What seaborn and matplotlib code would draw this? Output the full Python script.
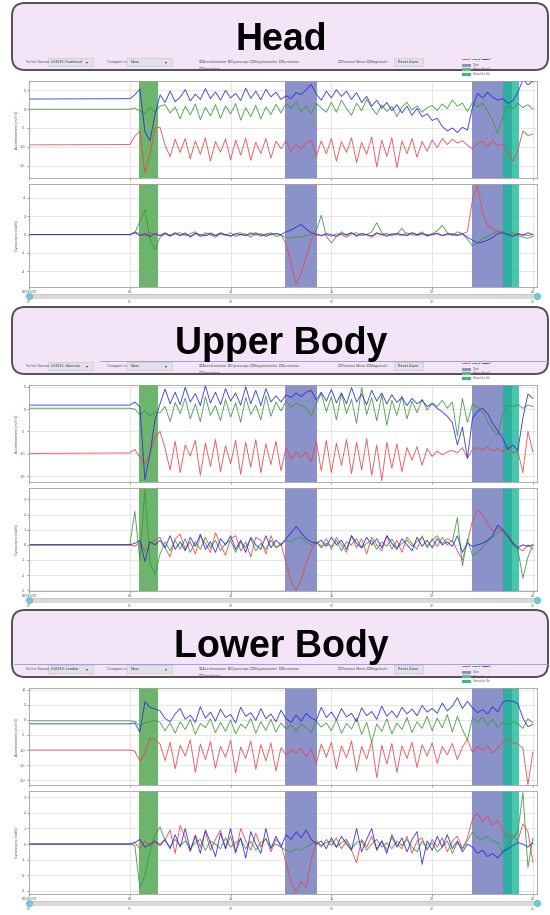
import numpy as np
import pandas as pd
import matplotlib
matplotlib.use("Agg")
import matplotlib.pyplot as plt
from matplotlib.patches import FancyBboxPatch, Rectangle
from matplotlib.lines import Line2D
import seaborn as sns

W, H = 550, 915

# Sample times: resting baseline at 0 s, then 4 Hz samples from 5 s to 25 s
TIME = np.r_[0.0, 5.0 + 0.25 * np.arange(81)]

# ---------------- Head (#11535: Forehead) ----------------
HEAD_ACC_X = [-9.5,
    -9.4, -7.2, -5.8, -17.0, -12.0, -5.0, -4.8, -9.6, -12.6, -8.0,
    -11.5, -7.8, -13.2, -8.4, -12.0, -7.6, -13.8, -8.6, -11.4, -7.9,
    -13.5, -8.2, -12.2, -7.7, -13.6, -8.8, -11.8, -7.8, -13.0, -8.5,
    -10.5, -8.4, -11.2, -9.2, -10.6, -9.0, -8.2, -12.6, -8.4, -11.8,
    -7.8, -13.8, -8.6, -11.5, -7.6, -14.2, -8.8, -12.0, -7.4, -15.4,
    -8.2, -12.6, -7.6, -15.6, -8.4, -11.8, -7.8, -12.8, -8.6, -11.2,
    -8.2, -10.2, -7.8, -9.4, -8.0, -9.0, -8.4, -9.6, -10.6, -9.0,
    -8.6, -10.0, -8.4, -9.8, -9.2, -11.8, -13.8, -11.0, -5.8, -7.0,
    -6.6]
HEAD_ACC_Y = [0.0,
    0.0, 0.3, -0.5, -1.2, 0.4, -0.6, 0.8, 1.2, -1.0, 0.6,
    -2.6, 0.8, -1.5, 1.4, -2.8, 0.5, -1.8, 1.2, -2.4, 0.9,
    -1.2, 1.5, -2.9, 0.4, -2.0, 1.0, -2.6, 0.6, -1.4, 1.3,
    -1.0, 1.5, 0.2, 2.0, -0.6, 0.8, -1.2, 1.6, 0.3, -0.8,
    1.8, -0.8, 2.4, 0.2, -1.6, 1.6, -0.4, 2.6, 0.4, -1.4,
    1.2, -0.6, 0.8, -2.0, 0.6, 1.8, -0.2, 0.9, -0.8, 0.4,
    1.0, -0.3, 1.4, 0.2, 2.4, 0.8, 1.6, -0.6, 1.8, 0.6,
    1.6, -0.5, -3.0, -6.5, -2.0, 1.0, 0.2, 1.6, 0.4, 1.2,
    0.0]
HEAD_ACC_Z = [2.7,
    2.8, 3.8, 5.4, -6.0, -8.4, -1.5, 3.8, 1.8, 4.8, 2.0,
    3.2, 5.2, 2.2, 4.0, 2.6, 5.5, 2.8, 4.6, 2.4, 5.0,
    3.0, 4.2, 2.3, 5.6, 2.9, 4.8, 2.5, 5.3, 3.3, 4.5,
    2.6, 3.6, 2.8, 4.4, 3.9, 5.2, 6.6, 4.0, 2.4, 4.8,
    3.0, 5.2, 3.4, 4.8, 2.6, 4.4, 1.8, 3.4, 0.8, 2.4,
    0.2, 1.8, -0.4, 1.2, -1.0, 0.8, -1.6, 0.2, -2.0, -1.2,
    -3.0, -2.4, -4.6, -5.8, -5.0, -6.2, -4.8, -5.6, 0.5, 4.2,
    3.0, 4.5, 3.2, 2.4, 2.8, 1.6, 2.2, 4.5, 7.8, 6.5,
    7.4]
HEAD_GYR_X = [0.0,
    0.0, 0.3, 0.1, -0.2, 0.2, 0.0, -0.1, 0.2, -0.1, 0.1,
    0.2, -0.1, 0.1, 0.3, -0.2, 0.0, 0.2, -0.1, 0.1, 0.0,
    -0.2, 0.1, 0.2, -0.1, 0.0, 0.2, -0.2, 0.1, 0.0, 0.1,
    0.0, -1.0, -3.0, -5.4, -4.2, -2.4, -0.6, 0.1, -0.1, 0.0,
    -0.2, 0.1, 0.0, -0.3, 0.1, 0.2, -0.1, 0.0, -0.3, 0.1,
    0.0, -0.2, 0.1, 0.0, -0.1, 0.2, 0.0, -0.1, 0.1, 0.0,
    0.0, 0.1, -0.1, 0.0, 0.1, 0.0, 0.1, 0.3, 3.8, 5.3,
    2.4, 1.0, 0.6, 0.3, 0.2, 0.0, -0.1, 0.1, 0.0, -0.1,
    0.0]
HEAD_GYR_Y = [0.0,
    0.0, 0.2, 1.4, 2.7, -0.6, -1.6, -0.3, 0.1, -0.2, 0.1,
    -0.1, 0.2, -0.3, 0.1, -0.2, 0.2, 0.0, -0.3, 0.1, -0.1,
    0.2, -0.2, 0.0, 0.1, -0.3, 0.2, -0.1, 0.0, 0.2, -0.2,
    -0.1, -0.3, -0.4, -0.2, -0.3, -0.1, 0.0, 0.4, 2.1, -0.2,
    -0.9, -0.2, 0.3, -0.1, 0.2, -0.2, 0.1, 0.0, 0.3, 1.3,
    0.2, -0.2, 0.1, 0.0, 0.7, -0.1, 0.2, 0.0, 0.3, -0.2,
    0.1, 0.4, 1.0, 0.2, -0.1, 0.3, 0.1, -0.5, -1.2, -0.9,
    -0.4, -0.2, 0.1, 0.4, 0.3, 0.0, 0.2, -0.1, -0.3, -0.4,
    -0.2]
HEAD_GYR_Z = [0.0,
    0.0, 0.2, -0.1, 0.1, -0.2, 0.1, -0.1, 0.15, -0.1, 0.2,
    -0.1, 0.1, -0.2, 0.15, 0.0, -0.15, 0.1, -0.1, 0.2, 0.0,
    -0.15, 0.1, 0.0, -0.1, 0.2, -0.05, 0.1, -0.2, 0.05, 0.1,
    0.0, 0.3, 0.5, 0.8, 1.1, 0.6, 0.2, 0.0, -0.1, 0.1,
    0.0, -0.2, 0.1, 0.0, 0.2, -0.1, 0.1, 0.0, -0.15, 0.2,
    0.0, 0.1, -0.1, 0.15, 0.0, -0.1, 0.2, 0.0, 0.1, -0.1,
    0.0, 0.15, -0.1, 0.1, 0.0, -0.1, 0.1, -0.3, -0.6, -0.9,
    -0.8, -0.6, -0.3, 0.1, 0.2, 0.0, -0.2, 0.1, -0.1, 0.2,
    0.0]

# ---------------- Upper body (#11531: Sternum) ----------------
UPPER_ACC_X = [-9.9,
    -9.8, -9.0, -10.8, -12.4, -9.8, -6.2, -5.0, -8.8, -13.6, -7.2,
    -14.2, -8.0, -10.5, -7.0, -14.8, -7.6, -12.8, -6.8, -14.0, -8.2,
    -12.2, -7.0, -14.6, -7.4, -13.0, -6.8, -14.2, -7.8, -12.4, -7.2,
    -13.8, -8.6, -11.2, -9.4, -10.8, -9.6, -11.8, -7.2, -13.8, -7.0,
    -14.2, -7.6, -12.6, -6.8, -14.4, -7.4, -13.6, -6.6, -14.8, -8.0,
    -16.0, -7.4, -13.2, -7.8, -14.0, -8.6, -11.4, -8.4, -12.6, -8.8,
    -10.6, -9.4, -10.2, -9.6, -9.2, -9.8, -8.6, -11.0, -9.0, -8.6,
    -9.2, -8.4, -9.4, -8.8, -9.6, -8.2, -9.8, -9.4, -14.2, -5.0,
    -9.6]
UPPER_ACC_Y = [0.2,
    0.2, 0.0, -1.2, -0.4, -1.6, -0.6, -0.8, 0.6, -2.8, 1.5,
    -1.0, 2.5, -2.2, 1.2, -2.8, 2.8, -1.4, 0.8, -2.6, 2.2,
    -1.8, 1.4, -2.9, 2.6, -1.2, 0.9, -2.4, 3.0, -1.6, 1.6,
    -0.4, 1.8, 0.4, 1.4, 0.8, 0.2, -1.5, 1.2, 3.5, -0.6,
    2.8, -2.4, 3.6, -1.0, 2.2, -3.2, 4.8, -1.2, 2.6, -2.6,
    3.2, -3.6, 2.0, -1.4, 3.0, -2.2, 1.8, -0.8, 2.2, -0.2,
    1.4, 0.6, 2.0, 0.2, 1.6, -6.0, 2.4, -3.0, 1.2, 0.4,
    -0.5, -2.8, -4.6, -5.8, -1.0, 0.8, 0.6, 1.0, 0.2, 0.9,
    0.6]
UPPER_ACC_Z = [0.9,
    0.9, 1.6, 0.5, -15.8, -10.0, -2.5, 1.2, 4.5, 1.2, 3.8,
    1.0, 4.9, 1.6, 3.5, 0.8, 5.2, 1.4, 3.8, 1.0, 4.6,
    1.8, 3.6, 0.9, 5.0, 1.2, 4.2, 0.8, 4.6, 1.6, 3.0,
    1.6, 3.2, 2.6, 3.6, 2.8, 3.8, 4.2, 2.0, 3.8, 1.8,
    4.4, 1.4, 3.6, 1.2, 4.8, 1.6, 3.4, 1.0, 4.2, 1.8,
    3.6, 1.2, 3.2, 1.5, 2.6, 0.8, 2.4, 1.2, 2.0, 0.6,
    1.2, 0.2, -0.6, -1.6, -3.0, -8.0, -4.0, -11.0, -2.0, -0.5,
    0.2, -1.0, -3.2, -4.8, -6.5, -9.0, -8.0, -9.2, -2.0, 3.4,
    2.4]
UPPER_GYR_X = [0.0,
    0.0, -0.1, 0.2, -0.4, 0.1, 0.3, 0.5, -0.2, -0.8, 0.4,
    0.7, -0.3, 0.2, -0.6, 0.6, 0.1, -0.5, 0.8, 0.0, -0.7,
    0.4, 0.6, -0.4, 0.2, -0.8, 0.5, 0.3, -0.6, 0.6, -0.2,
    0.1, -1.2, -2.4, -3.0, -2.3, -1.2, -0.4, 0.2, -0.1, 0.4,
    -0.3, 0.5, 0.0, -0.5, 0.6, -0.2, 0.4, -0.6, 0.5, 0.0,
    -0.4, 0.6, -0.3, 0.3, -0.5, 0.5, 0.1, -0.3, 0.6, -0.2,
    0.4, -0.1, 0.5, 0.0, 0.3, -0.4, -1.0, 0.2, 1.6, 2.3,
    2.0, 1.4, 0.9, 1.1, 0.8, 0.5, 0.2, -0.2, -0.4, 0.0,
    -0.3]
UPPER_GYR_Y = [0.0,
    0.0, 2.2, -1.0, 3.7, -1.2, -2.0, -0.6, 0.2, -0.4, 0.3,
    -0.3, 0.4, -0.5, 0.2, -0.3, 0.5, -0.2, 0.3, -0.4, 0.1,
    0.3, -0.5, 0.2, -0.2, 0.4, -0.4, 0.1, -0.3, 0.3, -0.2,
    0.0, 0.3, 0.2, 0.4, 0.5, 0.2, 0.0, 0.2, -0.2, 0.1,
    -0.1, 0.3, -0.4, 0.2, 0.0, 0.4, -0.2, 0.1, 0.3, -0.3,
    0.2, -0.1, 0.4, -0.2, 0.1, 0.3, -0.1, 0.2, 0.5, -0.1,
    0.3, 0.6, 0.1, 0.4, 0.2, 1.8, -1.4, 0.4, -0.7, -0.5,
    -0.2, 0.2, 0.5, 0.8, 1.0, 0.5, 0.0, -0.3, -2.2, -0.8,
    0.0]
UPPER_GYR_Z = [0.0,
    0.0, 0.1, 0.3, -1.1, 0.2, 0.0, 0.3, -0.2, 0.6, -0.3,
    0.2, -0.4, 0.5, -0.1, 0.7, -0.3, 0.2, -0.5, 0.4, 0.0,
    0.6, -0.3, 0.3, -0.5, 0.5, 0.0, -0.3, 0.6, -0.2, 0.3,
    0.0, 0.4, 0.8, 1.2, 0.8, 0.4, 0.2, 0.1, 0.3, -0.1,
    0.5, 0.0, 0.3, -0.3, 0.6, 0.1, -0.2, 0.5, 0.0, 0.4,
    -0.2, 0.6, 0.1, -0.3, 0.4, 0.0, -0.4, 0.5, -0.1, 0.3,
    -0.2, 0.4, 0.0, 0.2, -0.1, 0.6, -0.5, 0.1, -0.1, 0.0,
    0.1, 0.3, 0.6, 1.3, 1.0, 0.6, 0.1, -0.2, 0.0, -0.1,
    0.0]

# ---------------- Lower body (#12243: Lumbar) ----------------
LOWER_ACC_X = [-10.0,
    -10.0, -10.4, -13.6, -11.0, -6.0, -6.6, -8.0, -13.5, -7.4, -16.2,
    -8.4, -12.0, -6.6, -17.4, -8.0, -13.2, -7.2, -16.0, -8.8, -12.4,
    -6.8, -17.6, -9.0, -12.8, -7.0, -16.4, -8.2, -13.6, -7.6, -17.0,
    -9.2, -11.6, -9.8, -11.0, -9.4, -12.2, -9.6, -14.6, -8.0, -12.4,
    -7.4, -16.2, -8.6, -12.6, -7.0, -17.0, -8.8, -13.0, -7.2, -19.2,
    -8.4, -14.6, -7.8, -17.4, -8.6, -12.8, -7.4, -15.8, -8.2, -12.0,
    -7.6, -14.4, -8.8, -11.6, -7.8, -13.2, -9.0, -6.4, -10.8, -8.8,
    -10.2, -8.6, -11.0, -9.4, -7.2, -6.4, -7.6, -8.0, -9.4, -21.5,
    -10.6]
LOWER_ACC_Y = [-0.3,
    -0.3, -0.5, -2.0, -1.0, -0.6, -0.2, -0.8, -3.6, -1.0, -4.4,
    -0.6, -3.2, 0.2, -4.8, -1.2, -2.6, 0.4, -4.2, -0.8, -3.8,
    0.0, -4.6, -1.4, -2.8, 0.6, -4.4, -0.6, -3.4, 0.2, -4.0,
    -1.0, -3.0, -1.6, -3.8, -1.2, -2.6, -4.2, -0.4, -2.4, -1.0,
    -3.6, 0.2, -4.4, -1.2, -3.0, 0.6, -4.8, -0.8, -7.4, -1.4,
    -3.8, 0.4, -4.6, -1.0, -3.2, 0.8, -4.2, -0.6, -2.8, 1.2,
    -3.6, 0.6, -2.6, 1.8, -4.0, 1.2, -3.2, -6.6, 0.6, -0.8,
    1.0, -1.6, 0.2, -2.6, -0.8, -1.6, -0.6, -1.2, -2.8, 0.4,
    -1.0]
LOWER_ACC_Z = [-1.3,
    -1.3, -1.0, -4.0, 6.0, 4.2, 3.6, 3.0, 0.5, -0.6, 2.0,
    3.8, 0.2, 1.6, -0.8, 4.4, 0.6, 2.6, -0.4, 3.6, 0.8,
    1.8, -1.0, 4.2, 1.2, 2.4, -0.2, 3.8, 0.4, 2.0, -0.6,
    3.2, 0.4, -0.8, 1.6, -0.4, 2.2, 0.6, -0.2, 4.2, 0.8,
    2.6, 0.0, 3.8, 1.0, 2.2, -0.6, 4.0, 1.4, 2.8, 0.2,
    4.6, 1.2, 3.0, 0.8, 4.2, 2.0, 3.6, 1.4, 4.8, 2.6,
    3.8, 2.2, 5.6, 3.0, 4.6, 7.4, 3.8, 6.2, 4.0, 2.4,
    3.4, 2.0, 4.4, 2.6, 6.0, 6.4, 6.2, 5.4, 0.6, -2.2,
    -1.5]
LOWER_GYR_X = [0.0,
    0.0, 0.1, -0.3, 0.2, -0.1, 0.1, 0.0, 0.3, 0.9, -0.6,
    1.2, 0.4, -0.5, 0.6, -0.2, 0.8, -0.4, 0.3, 0.9, -0.3,
    0.5, -0.6, 1.0, 0.2, -0.4, 0.7, -0.2, 0.4, -0.5, 0.3,
    0.0, -1.2, -2.4, -3.1, -2.4, -2.8, -1.0, 0.1, -0.2, 0.3,
    -0.1, 0.4, -0.3, 0.2, -0.4, -1.2, 0.3, -0.2, 0.5, -0.3,
    0.2, -0.4, 0.4, 0.0, -0.3, 0.5, -0.6, 0.2, 0.4, -0.4,
    0.3, -0.2, 0.4, -0.5, 0.2, 0.5, -0.3, 0.4, 1.6, 2.0,
    1.4, 1.8, 1.2, 1.5, 0.9, 0.4, 0.6, 0.2, 1.3, 0.8,
    -1.2]
LOWER_GYR_Y = [0.0,
    0.0, -0.1, -2.8, -2.0, -0.5, 0.6, 1.1, 0.2, -0.2, 0.3,
    -0.1, 0.2, -0.3, 0.1, 0.3, -0.4, 0.2, 0.0, -0.3, 0.4,
    -0.2, 0.1, 0.3, -0.3, 0.2, -0.4, 0.1, 0.3, -0.2, 0.0,
    -0.2, -0.4, -0.5, -0.3, -0.4, -0.2, 0.0, 0.2, -0.1, 0.1,
    0.2, -0.2, 0.1, 0.3, -0.3, 0.1, 0.2, -0.4, 0.0, 0.3,
    -0.2, 0.1, -0.3, 0.2, -0.1, 0.3, -0.2, -0.5, 0.2, -0.3,
    0.1, -0.5, -0.2, 0.2, -0.6, 0.1, -0.3, 0.2, 0.8, 0.4,
    0.3, 0.5, 0.2, 0.1, -0.6, -0.1, 0.4, 0.8, 3.3, -1.5,
    0.4]
LOWER_GYR_Z = [0.0,
    0.0, 0.1, 0.3, -0.2, 0.0, 0.2, -0.1, 0.3, -0.3, 0.6,
    -0.2, 1.0, -0.4, 0.5, -0.6, 0.9, 0.1, -0.8, 0.7, -0.3,
    1.0, -0.5, 0.4, -0.9, 0.8, 0.0, -0.6, 1.0, -0.3, 0.5,
    -0.2, 0.6, 0.3, 0.8, 0.4, 0.9, 0.3, 0.0, 0.2, -0.3,
    0.4, -0.2, 0.5, 0.0, -0.4, 1.0, -0.5, 0.3, 1.0, -0.4,
    0.2, -0.6, 0.6, -0.2, 0.4, -0.5, 0.3, 0.8, -1.3, 0.2,
    -0.4, 0.5, -0.2, 0.6, -0.3, 0.2, -0.5, 0.0, -0.2, -0.6,
    -0.4, -0.8, -0.6, -0.9, -0.5, -0.3, -0.1, 0.1, 0.0, -0.2,
    0.1]

# Activity events (seconds)
SIT_TO_STAND = [(5.45, 6.39)]
TURNS = [(12.69, 14.28), (21.97, 23.96)]
STAND_TO_SIT = [(23.51, 24.31)]

AXIS_NAMES = ["x", "y", "z"]
X_TICKS = [0, 5, 10, 15, 20, 25]
X_TICK_LABELS = ["00:00:00", "05", "10", "15", "20", "25"]
SLIDER_LABELS = ["00", "05", "10", "15", "20", "25"]
X_MAX = 25.2

PALETTE = {"x": "#e4474c", "y": "#3a9a3a", "z": "#2b2be0"}
TURN_COLOR = "#8b92c9"
SIT_STAND_COLOR = "#6db46d"
STAND_SIT_COLOR = "#14b896"

PANELS = [
    dict(title="Head", sensor="#11535: Forehead", top=0,
         acc=[HEAD_ACC_X, HEAD_ACC_Y, HEAD_ACC_Z], gyr=[HEAD_GYR_X, HEAD_GYR_Y, HEAD_GYR_Z],
         acc_lim=(-18.3, 7.5), acc_ticks=[5, 0, -5, -10, -15],
         gyr_lim=(-5.7, 5.5), gyr_ticks=[4, 2, 0, -2, -4]),
    dict(title="Upper Body", sensor="#11531: Sternum", top=304,
         acc=[UPPER_ACC_X, UPPER_ACC_Y, UPPER_ACC_Z], gyr=[UPPER_GYR_X, UPPER_GYR_Y, UPPER_GYR_Z],
         acc_lim=(-16.3, 5.4), acc_ticks=[5, 0, -5, -10, -15],
         gyr_lim=(-3.05, 3.75), gyr_ticks=[3, 2, 1, 0, -1, -2, -3]),
    dict(title="Lower Body", sensor="#12243: Lumbar", top=607,
         acc=[LOWER_ACC_X, LOWER_ACC_Y, LOWER_ACC_Z], gyr=[LOWER_GYR_X, LOWER_GYR_Y, LOWER_GYR_Z],
         acc_lim=(-21.6, 10.6), acc_ticks=[10, 5, 0, -5, -10, -15, -20],
         gyr_lim=(-3.2, 3.4), gyr_ticks=[3, 2, 1, 0, -1, -2, -3]),
]

for p in PANELS:
    for series in p["acc"] + p["gyr"]:
        if len(series) != len(TIME):
            raise ValueError(f"{p['title']}: series has {len(series)} samples")

sns.set_theme(style="whitegrid")
plt.rcParams["font.family"] = ["Liberation Sans", "DejaVu Sans"]

fig = plt.figure(figsize=(W / 100, H / 100), dpi=100)
fig.patch.set_facecolor("white")


def rect(x0, y0, x1, y1):
    return [x0 / W, 1 - y1 / H, (x1 - x0) / W, (y1 - y0) / H]


def px_text(x, y, s, size=2.7, color="#555555", z=3, **kw):
    fig.text(x / W, 1 - y / H, s, fontsize=size, color=color, va="center",
             zorder=z, family=["Liberation Sans", "DejaVu Sans"], **kw)


def px_box(x0, y0, x1, y1, z=2, **kw):
    fig.add_artist(Rectangle((x0 / 100, (H - y1) / 100), (x1 - x0) / 100, (y1 - y0) / 100,
                             transform=fig.dpi_scale_trans, zorder=z, **kw))


def px_line(x0, x1, y, color):
    fig.add_artist(Line2D([x0 / 100, x1 / 100], [(H - y) / 100] * 2, color=color, lw=0.6,
                          transform=fig.dpi_scale_trans, zorder=3))


def draw_sensor(ax, series, ylim, yticks, ylabel, show_xlabels):
    df = pd.DataFrame({
        "time": np.tile(TIME, 3),
        "value": np.concatenate([np.asarray(s, float) for s in series]),
        "axis": np.repeat(AXIS_NAMES, len(TIME)),
    })
    for s, e in SIT_TO_STAND:
        ax.axvspan(s, e, color=SIT_STAND_COLOR, lw=0, zorder=1)
    for s, e in TURNS:
        ax.axvspan(s, e, color=TURN_COLOR, lw=0, zorder=1)
    for s, e in STAND_TO_SIT:
        ax.axvspan(s, e, color=STAND_SIT_COLOR, alpha=0.78, lw=0, zorder=1.1)
    sns.lineplot(data=df, x="time", y="value", hue="axis", palette=PALETTE, ax=ax,
                 legend=False, estimator=None, sort=False, lw=0.65, alpha=0.9, zorder=2)
    ax.set_xlim(0, X_MAX)
    ax.set_ylim(*ylim)
    ax.set_yticks(yticks)
    ax.set_yticklabels([str(t) for t in yticks])
    ax.set_xticks(X_TICKS)
    ax.set_xticklabels(X_TICK_LABELS if show_xlabels else [])
    ax.set_xlabel("")
    ax.set_ylabel(ylabel, fontsize=2.6, color="#555555")
    ax.yaxis.set_label_coords(-0.02, 0.5)
    ax.set_facecolor("white")
    ax.grid(True, color="#dcdcdc", lw=0.5)
    ax.set_axisbelow(True)
    ax.tick_params(axis="both", labelsize=2.7, length=1.5, width=0.4, pad=1,
                   colors="#555555", left=True, bottom=True)
    for sp in ax.spines.values():
        sp.set_color("#a0a0a0")
        sp.set_linewidth(0.6)


def draw_slider(y):
    sax = fig.add_axes(rect(29, y - 2, 537, y + 2))
    sax.set_xlim(0, X_MAX)
    sax.set_ylim(0, 1)
    sax.set_facecolor("#dadada")
    sax.grid(False)
    sax.set_yticks([])
    sax.set_xticks(X_TICKS)
    sax.set_xticklabels(SLIDER_LABELS)
    sax.tick_params(axis="x", labelsize=2.4, length=0, pad=1.2, colors="#666666")
    for sp in sax.spines.values():
        sp.set_color("#bdbdbd")
        sp.set_linewidth(0.4)
    sax.plot([0, X_MAX], [0.5, 0.5], "o", ms=4.5, color="#6fcbd8", mec="#52afc0",
             mew=0.4, clip_on=False, zorder=5)


for p in PANELS:
    o = p["top"]
    # title overlay
    fig.add_artist(FancyBboxPatch((12 / 100, (H - (o + 70)) / 100), 536 / 100, 67 / 100,
                                  boxstyle="round,pad=0,rounding_size=0.13",
                                  transform=fig.dpi_scale_trans, fc="#f3e4f8",
                                  ec="#505050", lw=1.4, zorder=1))
    fig.text(281 / W, 1 - (o + 50) / H, p["title"], fontsize=27, fontweight="bold",
             ha="center", va="baseline", color="black", zorder=6)

    # toolbar
    tb = o + 62
    if p["title"] != "Head":
        px_line(14 if p["title"] == "Lower Body" else 100, 548, tb - 5, "#7a9ee0")
    px_text(26, tb, "Select Sensor")
    px_box(48, tb - 4, 93, tb + 4, fc="#e4e0e8", ec="#c4c0c8", lw=0.4)
    px_text(51, tb, p["sensor"], color="#333333")
    px_text(86, tb, "\u25be", color="#333333")
    px_text(107, tb, "Compare to")
    px_box(127, tb - 4, 172, tb + 4, fc="#e4e0e8", ec="#c4c0c8", lw=0.4)
    px_text(131, tb, "None", color="#333333")
    px_text(165, tb, "\u25be", color="#333333")
    px_text(199, tb, "\u2611Accelerometer \u2611Gyroscope \u2610Magnetometer \u2610Barometer")
    px_text(199, tb + 7, "\u2610Orientation")
    px_text(338, tb, "\u2610Remove Mean \u2610Magnitude")
    px_box(394, tb - 4, 423, tb + 4, fc="#e4e0e8", ec="#c4c0c8", lw=0.4)
    px_text(408.5, tb, "Reset Zoom", ha="center", color="#333333")
    lx = 462
    for name in AXIS_NAMES:
        px_line(lx, lx + 6, tb - 3, PALETTE[name])
        px_text(lx + 7, tb - 3, name, size=2.4)
        lx += 10
    for i, (lab, col) in enumerate([("Turn", TURN_COLOR), ("Sit to Stand", SIT_STAND_COLOR),
                                    ("Stand to Sit", "#2fb89a")]):
        yy = o + 65 + 4.5 * i
        px_box(462, yy - 1.5, 471, yy + 1.5, fc=col, lw=0, z=3)
        px_text(473, yy, lab, size=2.3)

    acc_ax = fig.add_axes(rect(29, o + 81, 537, o + 178))
    gyr_ax = fig.add_axes(rect(29, o + 184, 537, o + 287))
    draw_sensor(acc_ax, p["acc"], p["acc_lim"], p["acc_ticks"], "Accelerometers (m/s^2)", False)
    draw_sensor(gyr_ax, p["gyr"], p["gyr_lim"], p["gyr_ticks"], "Gyroscopes (rad/s)", True)
    draw_slider(o + 296)

fig.savefig("out.png", dpi=100, facecolor="white")
